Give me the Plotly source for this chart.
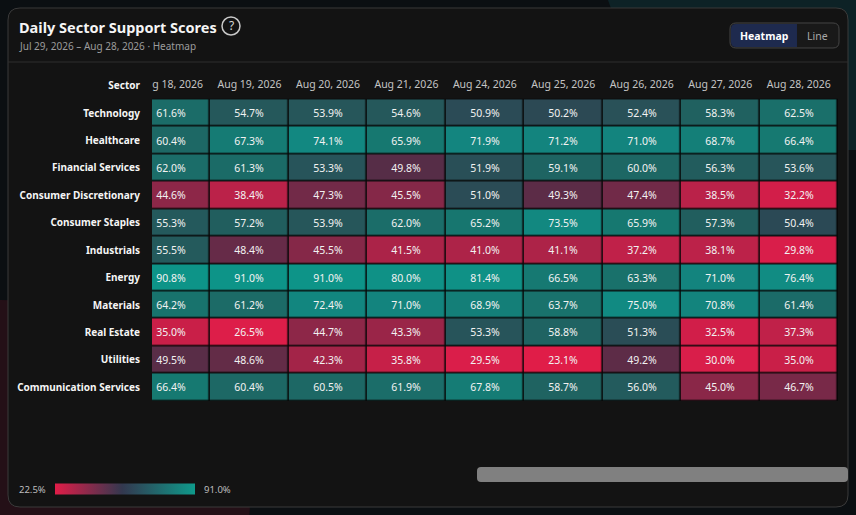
import plotly.graph_objects as go

# visible columns of the scrolled table
dates = ["Aug 18, 2026", "Aug 19, 2026", "Aug 20, 2026", "Aug 21, 2026", "Aug 24, 2026",
         "Aug 25, 2026", "Aug 26, 2026", "Aug 27, 2026", "Aug 28, 2026"]

sectors = ["Technology", "Healthcare", "Financial Services", "Consumer Discretionary",
           "Consumer Staples", "Industrials", "Energy", "Materials", "Real Estate",
           "Utilities", "Communication Services"]

technology = [61.6, 54.7, 53.9, 54.6, 50.9, 50.2, 52.4, 58.3, 62.5]
healthcare = [60.4, 67.3, 74.1, 65.9, 71.9, 71.2, 71.0, 68.7, 66.4]
financial_services = [62.0, 61.3, 53.3, 49.8, 51.9, 59.1, 60.0, 56.3, 53.6]
consumer_discretionary = [44.6, 38.4, 47.3, 45.5, 51.0, 49.3, 47.4, 38.5, 32.2]
consumer_staples = [55.3, 57.2, 53.9, 62.0, 65.2, 73.5, 65.9, 57.3, 50.4]
industrials = [55.5, 48.4, 45.5, 41.5, 41.0, 41.1, 37.2, 38.1, 29.8]
energy = [90.8, 91.0, 91.0, 80.0, 81.4, 66.5, 63.3, 71.0, 76.4]
materials = [64.2, 61.2, 72.4, 71.0, 68.9, 63.7, 75.0, 70.8, 61.4]
real_estate = [35.0, 26.5, 44.7, 43.3, 53.3, 58.8, 51.3, 32.5, 37.3]
utilities = [49.5, 48.6, 42.3, 35.8, 29.5, 23.1, 49.2, 30.0, 35.0]
communication_services = [66.4, 60.4, 60.5, 61.9, 67.8, 58.7, 56.0, 45.0, 46.7]

score_min = 22.5
score_max = 91.0

z = [technology, healthcare, financial_services, consumer_discretionary, consumer_staples,
     industrials, energy, materials, real_estate, utilities, communication_services]

FONT = "Noto Sans"
W, H = 856, 515
L, R, T, B = 152, 838, 72, 401


def px(x):
    return (x - L) / (R - L)


def py(y):
    return (B - y) / (B - T)


def rrect(x0, y0, x1, y1, r, left=True, right=True):
    rl = r if left else 0
    rr = r if right else 0
    pts = [
        f"M{px(x0 + rl):.5f},{py(y0):.5f}",
        f"L{px(x1 - rr):.5f},{py(y0):.5f}",
        f"Q{px(x1):.5f},{py(y0):.5f} {px(x1):.5f},{py(y0 + rr):.5f}",
        f"L{px(x1):.5f},{py(y1 - rr):.5f}",
        f"Q{px(x1):.5f},{py(y1):.5f} {px(x1 - rr):.5f},{py(y1):.5f}",
        f"L{px(x0 + rl):.5f},{py(y1):.5f}",
        f"Q{px(x0):.5f},{py(y1):.5f} {px(x0):.5f},{py(y1 - rl):.5f}",
        f"L{px(x0):.5f},{py(y0 + rl):.5f}",
        f"Q{px(x0):.5f},{py(y0):.5f} {px(x0 + rl):.5f},{py(y0):.5f}",
        "Z",
    ]
    return " ".join(pts)


# red below 50, teal above 50
cell_scale = [
    [0.0, "#e11d48"],
    [0.1095, "#d91e4a"],
    [0.1825, "#c91f48"],
    [0.232, "#bb2249"],
    [0.277, "#ab2348"],
    [0.328, "#8a2748"],
    [0.362, "#722a48"],
    [0.400, "#552d47"],
    [0.4015, "#2c4854"],
    [0.4526, "#27555a"],
    [0.5066, "#215e5e"],
    [0.5708, "#1b6c68"],
    [0.6336, "#167870"],
    [0.708, "#13847e"],
    [0.839, "#0f9186"],
    [1.0, "#0d9488"],
]
legend_scale = [[0.0, "#e11d48"], [0.48, "#33384f"], [1.0, "#0f9a8b"]]

cols = list(range(len(dates)))
row_labels = ["Sector"] + sectors
row_pos = list(range(1, len(sectors) + 1))

fig = go.Figure()

fig.add_trace(go.Heatmap(
    x=cols, y=row_pos, z=z,
    zmin=score_min, zmax=score_max,
    colorscale=cell_scale, showscale=False,
    xgap=1.5, ygap=1.5,
    texttemplate="%{z:.1f}%",
    textfont=dict(family=FONT, size=10.5, color="#f2f2f2"),
    hoverinfo="z",
))

# column headers (clipped by the scroll window)
fig.add_trace(go.Scatter(
    x=cols, y=[0] * len(dates), text=dates, mode="text",
    textfont=dict(family=FONT, size=10.5, color="#c4c4c4"),
    cliponaxis=True, hoverinfo="skip", showlegend=False,
))

# colour legend (points parked outside the visible range)
fig.add_trace(go.Scatter(
    x=[-5, -5], y=[0, 0], mode="markers", showlegend=False, hoverinfo="skip",
    marker=dict(
        color=[score_min, score_max], cmin=score_min, cmax=score_max,
        colorscale=legend_scale, showscale=True,
        colorbar=dict(
            orientation="h",
            x=px(55), xanchor="left", y=py(488.5), yanchor="middle",
            lenmode="pixels", len=140, thickness=11,
            xpad=0, ypad=0, outlinewidth=0, showticklabels=False, ticks="",
        ),
    ),
))

shapes = [
    # faint glows behind the card
    dict(type="circle", x0=px(600), x1=px(1100), y0=py(-250), y1=py(150), xref="paper",
         yref="paper", fillcolor="rgba(20,90,100,0.25)", line=dict(width=0), layer="below"),
    dict(type="circle", x0=px(-250), x1=px(250), y0=py(300), y1=py(700), xref="paper",
         yref="paper", fillcolor="rgba(110,20,40,0.25)", line=dict(width=0), layer="below"),
    dict(type="path", path=rrect(8, 8, 848, 507, 12), xref="paper", yref="paper",
         fillcolor="#131313", line=dict(color="#3a3a3a", width=1), layer="below"),
    dict(type="line", x0=px(8), x1=px(848), y0=py(62), y1=py(62), xref="paper", yref="paper",
         line=dict(color="#2f2f2f", width=1), layer="below"),
    dict(type="rect", x0=0, x1=1, y0=0, y1=py(98.7), xref="paper", yref="paper",
         fillcolor="#080808", line=dict(width=0), layer="below"),
    # view toggle
    dict(type="path", path=rrect(730, 23, 839, 48, 6), xref="paper", yref="paper",
         fillcolor="#191919", line=dict(color="#454545", width=1), layer="below"),
    dict(type="path", path=rrect(731, 24, 797, 47, 5, right=False), xref="paper", yref="paper",
         fillcolor="#1e2a4e", line=dict(width=0), layer="below"),
    # help icon
    dict(type="circle", x0=px(222), x1=px(240), y0=py(17), y1=py(35), xref="paper", yref="paper",
         line=dict(color="#c8c8c8", width=1.5), layer="below"),
    # horizontal scrollbar thumb
    dict(type="path", path=rrect(477, 467, 848, 482, 4), xref="paper", yref="paper",
         fillcolor="#808080", line=dict(width=0), layer="below"),
]

annotations = [
    dict(text="<b>Daily Sector Support Scores</b>", x=px(17), y=py(27), xanchor="left",
         yanchor="middle", font=dict(family=FONT, size=14.5, color="#f5f5f5")),
    dict(text="?", x=px(231), y=py(26), xanchor="center", yanchor="middle",
         font=dict(family=FONT, size=12, color="#d8d8d8")),
    dict(text="Jul 29, 2026 – Aug 28, 2026 · Heatmap", x=px(17), y=py(46), xanchor="left",
         yanchor="middle", font=dict(family=FONT, size=10, color="#9c9c9c")),
    dict(text="<b>Heatmap</b>", x=px(764), y=py(36), xanchor="center", yanchor="middle",
         font=dict(family=FONT, size=10.5, color="#ffffff")),
    dict(text="Line", x=px(817), y=py(36), xanchor="center", yanchor="middle",
         font=dict(family=FONT, size=10.5, color="#a8a8a8")),
    dict(text=f"{score_min:.1f}%", x=px(48), y=py(489), xanchor="right", yanchor="middle",
         font=dict(family=FONT, size=9.5, color="#bdbdbd")),
    dict(text=f"{score_max:.1f}%", x=px(202), y=py(489), xanchor="left", yanchor="middle",
         font=dict(family=FONT, size=9.5, color="#bdbdbd")),
]
for a in annotations:
    a.update(xref="paper", yref="paper", showarrow=False)

fig.update_layout(
    width=W, height=H,
    margin=dict(l=L, r=W - R, t=T, b=H - B),
    paper_bgcolor="#0b0f12",
    plot_bgcolor="#131313",
    shapes=shapes,
    annotations=annotations,
    showlegend=False,
    xaxis=dict(range=[-0.5 + 20.25 / 78.5, len(dates) - 0.5], visible=False, fixedrange=True),
    yaxis=dict(
        range=[len(row_labels) - 0.5, -0.5],
        tickmode="array", tickvals=list(range(len(row_labels))),
        ticktext=[f"<b>{s}</b>" for s in row_labels],
        tickfont=dict(family=FONT, size=10, color="#f5f5f5"),
        ticks="outside", ticklen=9, tickcolor="rgba(0,0,0,0)",
        showgrid=False, zeroline=False, showline=False, fixedrange=True,
    ),
    font=dict(family=FONT),
)

fig.write_html("out.html", config={"displayModeBar": False},
               post_script="document.body.style.margin='0';")
